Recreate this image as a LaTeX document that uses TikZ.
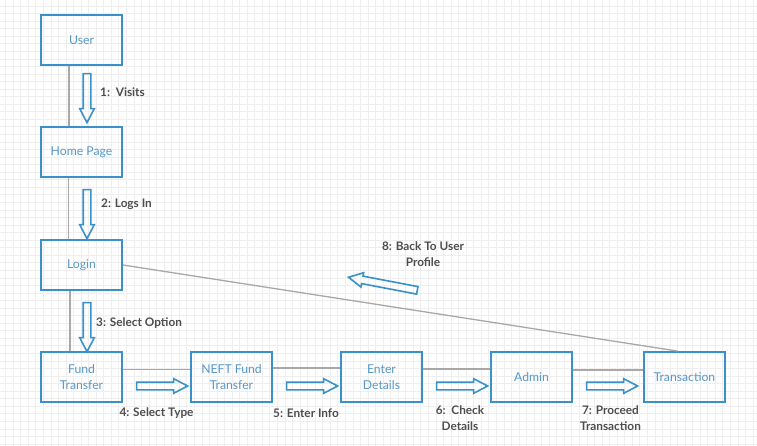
\documentclass[tikz,border=0pt]{standalone}
\usepackage{fontspec}
\setmainfont{Lato}
\usepackage{tikz}
\usetikzlibrary{calc,shapes.arrows}
\definecolor{boxblue}{RGB}{58,144,200}
\definecolor{textblue}{RGB}{86,152,200}
\definecolor{linegray}{RGB}{168,168,168}
\definecolor{gridgray}{RGB}{238,238,238}
\definecolor{labelgray}{RGB}{78,78,78}

\begin{document}
\begin{tikzpicture}[x=1pt, y=-1pt,
		stepbox/.style={draw=boxblue, line width=2pt, minimum width=81pt, minimum height=50pt, text=textblue, font=\fontsize{12.2}{16}\selectfont, align=center, inner sep=0pt},
		link/.style={draw=linegray, line width=1.3pt},
		flow/.style={single arrow, draw=boxblue, line width=1.6pt, single arrow head extend=3.5pt, single arrow tip angle=55, inner sep=3pt, minimum height=49pt},
		msg/.style={text=labelgray, font=\bfseries\fontsize{11.8}{16}\selectfont, align=center, inner sep=0pt}]
			%%%%% START %%%%%
			
			\useasboundingbox[fill=white] (0, 0) rectangle (757, 446);
			\foreach \gx in {0,...,100} \draw[gridgray, line width=0.6pt] ({5.5+7.55*\gx}, 0) -- ({5.5+7.55*\gx}, 446);
			\foreach \gy in {0,...,59} \draw[gridgray, line width=0.6pt] (0, {6+7.55*\gy}) -- (757, {6+7.55*\gy});
			
			\node[stepbox] (user) at (81.5, 40) {User};
			\node[stepbox] (home) at (81.5, 152.5) {Home Page};
			\node[stepbox] (login) at (81.5, 265) {Login};
			\node[stepbox] (fund) at (81.5, 377) {Fund\\Transfer};
			\node[stepbox] (neft) at (231.5, 377) {NEFT Fund\\Transfer};
			\node[stepbox] (enter) at (381.5, 377) {Enter\\Details};
			\node[stepbox] (admin) at (531.5, 377) {Admin};
			\node[stepbox] (trans) at (684.5, 377) {Transaction};
			
			\draw[link] ([xshift=-12.5pt]user.south) -- ([xshift=-12.5pt]home.north);
			\draw[link] ([xshift=-13pt]home.south) -- ([xshift=-13pt]login.north);
			\draw[link] ([xshift=-11.5pt]login.south) -- ([xshift=-11.5pt]fund.north);
			\draw[link] ([yshift=7.5pt]fund.east) -- ([yshift=7.5pt]neft.west);
			\draw[link] ([yshift=9pt]neft.east) -- ([yshift=9pt]enter.west);
			\draw[link] ([yshift=8pt]enter.east) -- ([yshift=8pt]admin.west);
			\draw[link] ([yshift=7pt]admin.east) -- ([yshift=7pt]trans.west);
			\draw[link] (login.east) -- ([xshift=-7.5pt]trans.north);
			
			\node[flow, rotate=-90] (f1) at (87, 94.5) {};
			\node[flow, rotate=-90] (f2) at (87, 210.5) {};
			\node[flow, rotate=-90] (f3) at (87, 323.5) {};
			\node[flow, minimum height=51pt] (f4) at (158.5, 386) {};
			\node[flow, minimum height=51pt] (f5) at (308.5, 386) {};
			\node[flow, minimum height=51pt] (f6) at (458.5, 386) {};
			\node[flow, minimum height=51pt] (f7) at (608.5, 386) {};
			\node[flow, minimum height=70pt, rotate=169.2] (f8) at (386.5, 284.5) {};
			
			\node[msg, anchor=west] (m1) at (100, 92) {1:\ \ Visits};
			\node[msg, anchor=west] (m2) at (101, 204) {2: Logs In};
			\node[msg, anchor=west] (m3) at (96, 323) {3: Select Option};
			\node[msg] (m4) at (156.5, 413) {4: Select Type};
			\node[msg] (m5) at (306, 413) {5: Enter Info};
			\node[msg] (m6) at (460, 418) {6:\ \ Check\\Details};
			\node[msg] (m7) at (610.5, 418) {7: Proceed\\Transaction};
			\node[msg] (m8) at (423, 254.5) {8: Back To User\\Profile};
			
			%%%%% END %%%%%
\end{tikzpicture}
\end{document}
